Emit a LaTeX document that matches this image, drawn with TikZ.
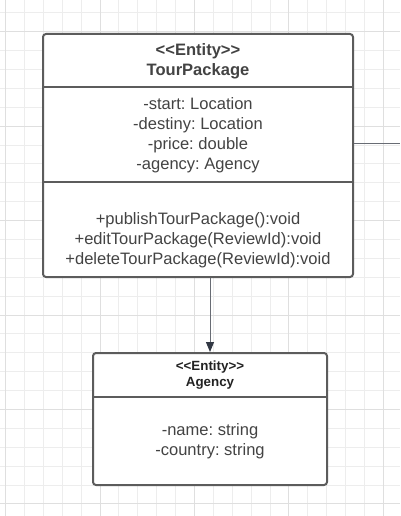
\documentclass[tikz,border=0pt]{standalone}
\usepackage{fontspec}
\setmainfont{Liberation Sans}
\usepackage{xcolor}
\usetikzlibrary{fit,arrows.meta}
\definecolor{bg}{HTML}{FFFFFF}
\definecolor{gridmin}{HTML}{EDEDED}
\definecolor{gridmaj}{HTML}{DFDFDF}
\definecolor{edge}{HTML}{5C5C5C}
\definecolor{text}{HTML}{434343}
\definecolor{title}{HTML}{222222}
\definecolor{wire}{HTML}{686C74}
\definecolor{tip}{HTML}{323844}
\tikzset{
  minor/.style={draw=gridmin, line width=0.75pt},
  major/.style={draw=gridmaj, line width=0.75pt},
  classbox/.style={draw=edge, fill=bg, line width=1.5pt, rounded corners=2.25pt, inner sep=0pt},
  divider/.style={draw=edge, line width=1.5pt},
  wire/.style={draw=wire, line width=0.75pt},
  assoc/.style={wire, -{Triangle[length=7.5pt,width=6pt,color=tip]}},
  head/.style={text=text, font=\frenchspacing\bfseries\fontsize{12.4}{15}\selectfont, align=center},
  headsm/.style={text=title, font=\frenchspacing\bfseries\fontsize{10}{12}\selectfont, align=center},
  body/.style={text=text, font=\frenchspacing\fontsize{12.4}{15}\selectfont, align=center}
}

\begin{document}
\begin{tikzpicture}[x=0.75pt,y=-0.75pt]
  \useasboundingbox (0,0) rectangle (400,516);
  \fill[bg] (0,0) rectangle (400,516);

  % background grid
  \foreach \i in {-5,...,15}
    \draw[minor] ({100+18.89*\i},0) -- ({100+18.89*\i},516);
  \foreach \j in {-1,...,25}
    \draw[minor] (0,{31.7+18.89*\j}) -- (400,{31.7+18.89*\j});
  \foreach \i in {-5,0,5,10,15}
    \draw[major] ({100+18.89*\i},0) -- ({100+18.89*\i},516);
  \foreach \j in {0,5,10,15,20,25}
    \draw[major] (0,{31.7+18.89*\j}) -- (400,{31.7+18.89*\j});

  % TourPackage
  \node[classbox, fit={(43,34) (353,277)}] (tour) {};
  \draw[divider] (tour.west |- 0,87) -- (tour.east |- 0,87);
  \draw[divider] (tour.west |- 0,182) -- (tour.east |- 0,182);
  \node[head] (tourhead) at (198,61) {<{}<Entity>{}>\\TourPackage};
  \node[body] (tourattr) at (198,135) {-start: Location\\-destiny: Location\\-price: double\\-agency: Agency};
  \node[body] (tourops) at (198,240) {+publishTourPackage():void\\+editTourPackage(ReviewId):void\\+deleteTourPackage(ReviewId):void};

  % Agency
  \node[classbox, fit={(93,353) (327,485)}] (agency) {};
  \draw[divider] (agency.west |- 0,397) -- (agency.east |- 0,397);
  \node[headsm] (agencyhead) at (210,375.5) {<{}<Entity>{}>\\Agency};
  \node[body] (agencyattr) at (210,441) {-name: string\\-country: string};

  % links
  \coordinate (offR) at (400,144);
  \draw[wire] (tour.east |- offR) -- (offR);
  \draw[assoc] (tour.south -| agency.north) -- (agency.north);
\end{tikzpicture}
\end{document}
